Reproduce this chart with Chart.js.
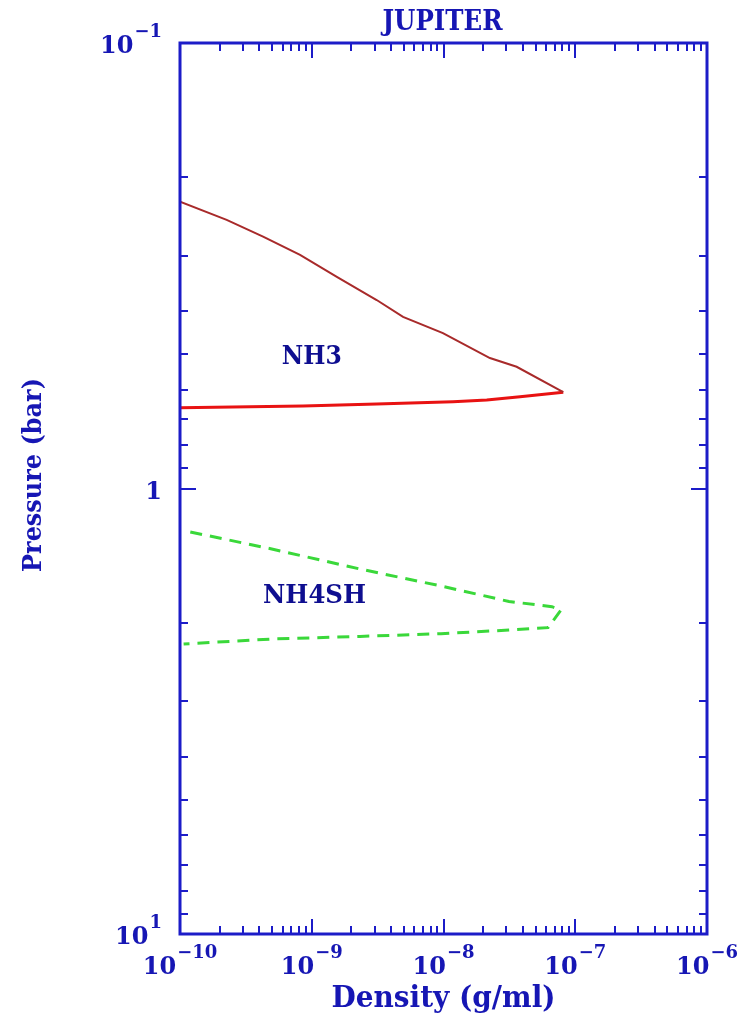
<!DOCTYPE html>
<html>
<head>
<meta charset="utf-8">
<script src="https://cdn.jsdelivr.net/npm/chart.js@4"></script>
<style>
    html, body { margin: 0; padding: 0; background: #ffffff; }
    #wrap { position: relative; width: 742px; height: 1015px; }
</style>
</head>
<body>
<div id="wrap"><canvas id="chart"></canvas></div>
<script>
// 그림에서 읽어 낸 값들 (밀도 g/ml, 압력 bar)
const nh3TopDensity = [1e-10, 2.26e-10, 4.27e-10, 8.15e-10, 1.55e-9, 3.11e-9, 4.93e-9, 9.9e-9, 2.25e-8, 3.59e-8, 8.11e-8];
const nh3TopPressure = [0.227, 0.2495, 0.272, 0.299, 0.335, 0.3775, 0.412, 0.448, 0.5095, 0.533, 0.608];
const nh3BottomDensity = [1e-10, 8.58e-10, 3.11e-9, 1.18e-8, 2.13e-8, 3.81e-8, 8.11e-8];
const nh3BottomPressure = [0.6585, 0.6528, 0.6461, 0.6385, 0.6328, 0.6221, 0.608];
const nh4shDensity = [1.197e-10, 4.97e-10, 2.32e-9, 9.57e-9, 3.14e-8, 6.66e-8, 7.8e-8, 6.21e-8, 3.14e-8, 9.57e-9, 2.32e-9, 4.97e-10, 1.065e-10];
const nh4shPressure = [1.252, 1.367, 1.516, 1.655, 1.793, 1.842, 1.874, 2.053, 2.078, 2.118, 2.148, 2.177, 2.234];

// 축 눈금 라벨
const xTickValues = [1e-10, 1e-9, 1e-8, 1e-7, 1e-6];
const xTickExponents = ['\u221210', '\u22129', '\u22128', '\u22127', '\u22126'];
const yTickValues = [0.1, 1, 10];
const yTickBases = ['10', '1', '10'];
const yTickExponents = ['\u22121', '', '1'];

const AXIS_COLOR = '#1c1cc8';
const TEXT_COLOR = '#1616b4';
const NOTE_COLOR = '#0e0e90';

const toPoints = (xs, ys) => xs.map((x, i) => ({ x: x, y: ys[i] }));

// 텍스트를 지정 폭에 맞춰 그리기
function fitText(ctx, text, x, y, width, font) {
    ctx.font = font;
    const w = ctx.measureText(text).width;
    ctx.save();
    ctx.translate(x, y);
    ctx.scale(width / w, 1);
    ctx.textAlign = 'center';
    ctx.textBaseline = 'alphabetic';
    ctx.fillText(text, 0, 0);
    ctx.restore();
}

// 10^n 형태 라벨
function powerLabel(ctx, base, exp, x, baseline, align) {
    const baseFont = 'bold 24px "DejaVu Serif"';
    const expFont = 'bold 18px "DejaVu Serif"';
    ctx.font = baseFont;
    const wb = ctx.measureText(base).width;
    ctx.font = expFont;
    const we = exp ? ctx.measureText(exp).width + 1 : 0;
    const total = wb + we;
    let start = x - total / 2;
    if (align === 'right') start = x - total;
    ctx.textAlign = 'left';
    ctx.textBaseline = 'alphabetic';
    ctx.font = baseFont;
    ctx.fillText(base, start, baseline);
    if (exp) {
        ctx.font = expFont;
        ctx.fillText(exp, start + wb + 1, baseline - 16);
    }
}

// 테두리, 안쪽 눈금, 라벨, 제목 그리기
const framePlugin = {
    id: 'framePlugin',
    afterDatasetsDraw(chart) {
        const { ctx, chartArea: a, scales: { x, y } } = chart;
        ctx.save();
        ctx.strokeStyle = AXIS_COLOR;
        ctx.lineWidth = 3;
        ctx.strokeRect(a.left, a.top, a.right - a.left, a.bottom - a.top);

        ctx.lineWidth = 2;
        ctx.beginPath();
        xTickValues.forEach(v => {
            for (let m = 1; m <= 9; m++) {
                const t = v * m;
                if (t > x.max * 1.0001) break;
                const px = Math.round(x.getPixelForValue(t)) + 0.0;
                const len = m === 1 ? 15 : 8;
                ctx.moveTo(px, a.bottom); ctx.lineTo(px, a.bottom - len);
                ctx.moveTo(px, a.top); ctx.lineTo(px, a.top + len);
            }
        });
        yTickValues.forEach(v => {
            for (let m = 1; m <= 9; m++) {
                const t = v * m;
                if (t > y.max * 1.0001) break;
                const py = Math.round(y.getPixelForValue(t));
                const len = m === 1 ? 16 : 8;
                ctx.moveTo(a.left, py); ctx.lineTo(a.left + len, py);
                ctx.moveTo(a.right, py); ctx.lineTo(a.right - len, py);
            }
        });
        ctx.stroke();

        ctx.fillStyle = TEXT_COLOR;
        xTickValues.forEach((v, i) => {
            powerLabel(ctx, '10', xTickExponents[i], x.getPixelForValue(v), a.bottom + 40, 'center');
        });
        yTickValues.forEach((v, i) => {
            powerLabel(ctx, yTickBases[i], yTickExponents[i], a.left - 18, y.getPixelForValue(v) + 10, 'right');
        });

        // 제목과 축 이름
        fitText(ctx, 'JUPITER', (a.left + a.right) / 2 - 1, 30, 120, 'bold 27px "DejaVu Serif"');
        fitText(ctx, 'Density (g/ml)', (a.left + a.right) / 2, 1007, 224, 'bold 30px "DejaVu Serif"');
        ctx.save();
        ctx.translate(41, 475);
        ctx.rotate(-Math.PI / 2);
        fitText(ctx, 'Pressure (bar)', 0, 0, 194, 'bold 26px "DejaVu Serif"');
        ctx.restore();

        // 구름층 이름
        ctx.fillStyle = NOTE_COLOR;
        fitText(ctx, 'NH3', x.getPixelForValue(1e-9), y.getPixelForValue(0.5) + 10, 60, 'bold 26px "DejaVu Serif"');
        fitText(ctx, 'NH4SH', x.getPixelForValue(1.05e-9), y.getPixelForValue(1.72) + 10, 103, 'bold 26px "DejaVu Serif"');
        ctx.restore();
    }
};

new Chart(document.getElementById('chart'), {
    type: 'line',
    data: {
        datasets: [
            {
                label: 'NH3 top',
                data: toPoints(nh3TopDensity, nh3TopPressure),
                borderColor: '#a82a2a',
                borderWidth: 2
            },
            {
                label: 'NH3 bottom',
                data: toPoints(nh3BottomDensity, nh3BottomPressure),
                borderColor: '#e81212',
                borderWidth: 3
            },
            {
                label: 'NH4SH',
                data: toPoints(nh4shDensity, nh4shPressure),
                borderColor: '#3ad83a',
                borderWidth: 3,
                borderDash: [12, 8]
            }
        ]
    },
    options: {
        responsive: true,
        maintainAspectRatio: false,
        animation: false,
        devicePixelRatio: 1,
        layout: { padding: { left: 180, right: 35, top: 43, bottom: 81 } },
        elements: { point: { radius: 0 }, line: { tension: 0, fill: false } },
        plugins: { legend: { display: false }, tooltip: { enabled: false } },
        scales: {
            x: { type: 'logarithmic', min: 1e-10, max: 1e-6, display: false },
            y: { type: 'logarithmic', min: 0.1, max: 10, reverse: true, display: false }
        }
    },
    plugins: [framePlugin]
});
</script>
</body>
</html>
